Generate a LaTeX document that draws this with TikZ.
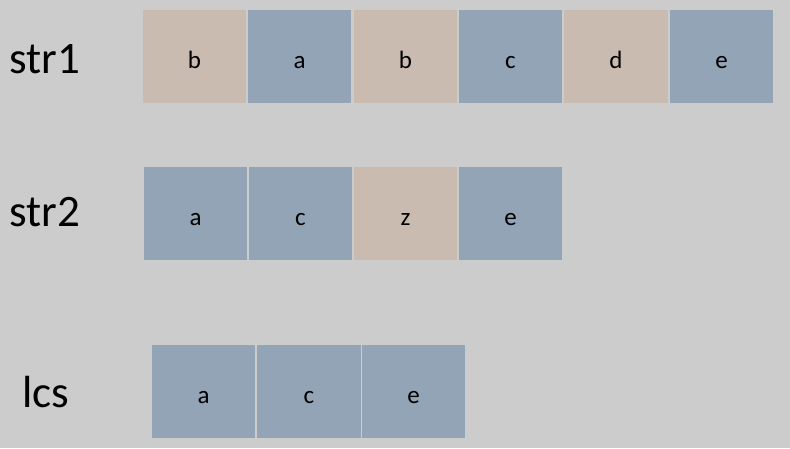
\documentclass[tikz,border=0pt]{standalone}
\usepackage{fontspec}
\setmainfont{Carlito}
\definecolor{bg}{HTML}{CCCCCC}
\definecolor{cellblue}{HTML}{93A4B7}
\definecolor{celltan}{HTML}{C9BBB0}
\begin{document}
\begin{tikzpicture}[x=1pt,y=-1pt,
  cell/.style={minimum width=103.5pt,minimum height=93pt,inner sep=0pt,text height=23pt,text depth=0pt,font=\fontsize{25}{30}\selectfont,text=black},
  bl/.style={cell,fill=cellblue},
  tn/.style={cell,fill=celltan},
  lbl/.style={font=\fontsize{45}{52}\selectfont,text=black,anchor=base west,inner sep=0pt}]
\fill[bg] (0,0) rectangle (790,448);
\useasboundingbox (0,0) rectangle (790,448);
% labels
\node[lbl] (l1) at (9,73) {str1};
\node[lbl] (l2) at (9,226) {str2};
\node[lbl] (l3) at (22,407) {lcs};
% str1
\node[tn] (s1a) at (194.5,56.5) {b};
\node[bl] (s1b) at (299.5,56.5) {a};
\node[tn] (s1c) at (405.5,56.5) {b};
\node[bl] (s1d) at (510.5,56.5) {c};
\node[tn] (s1e) at (616,56.5) {d};
\node[bl] (s1f) at (721.5,56.5) {e};
% str2
\node[bl] (s2a) at (195.5,213.5) {a};
\node[bl] (s2b) at (300.5,213.5) {c};
\node[tn] (s2c) at (405.5,213.5) {z};
\node[bl] (s2d) at (510.5,213.5) {e};
% lcs
\node[bl] (c1) at (203.5,391.5) {a};
\node[bl] (c2) at (309,391.5) {c};
\node[bl] (c3) at (413.5,391.5) {e};
\end{tikzpicture}
\end{document}
